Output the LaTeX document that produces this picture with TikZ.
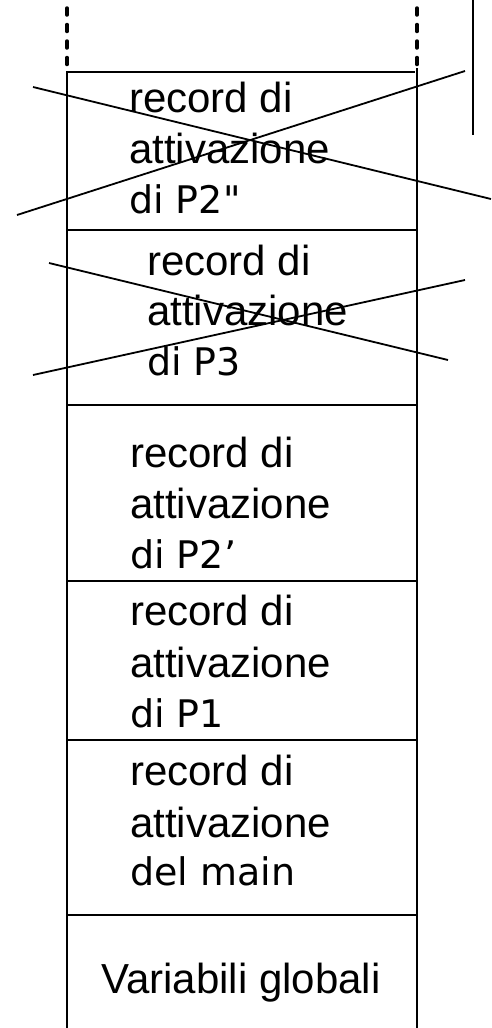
\documentclass[tikz,border=0pt]{standalone}
\usepackage{fontspec}
\setmainfont{Liberation Sans}
\newfontfamily\djv{DejaVu Sans}
\begin{document}
\begin{tikzpicture}[x=1pt,y=-1pt,
  wall/.style={line width=2pt},
  sep/.style={line width=1.8pt},
  cross/.style={line width=1.8pt},
  dashwall/.style={line width=3.5pt,line cap=round,dash pattern=on 7pt off 9.5pt},
  txt/.style={anchor=base west,inner sep=0pt,font=\fontsize{42}{51}\selectfont},
  txtb/.style={anchor=base west,inner sep=0pt,font=\djv\fontsize{38}{51}\selectfont}]
\useasboundingbox (0,0) rectangle (491,1028);
% stack walls
\coordinate (lt) at (67,8);
\coordinate (lm) at (67,72);
\coordinate (lb) at (67,1028);
\coordinate (rt) at (417,8);
\coordinate (rm) at (417,72);
\coordinate (rb) at (417,1028);
\draw[dashwall] (lt) -- (67,68);
\draw[dashwall] (rt) -- (417,68);
\draw[wall] (lm) -- (lb);
\draw[wall] (417,68) -- (rb);
% extra vertical line
\coordinate (vt) at (473,0);
\coordinate (vb) at (473,135);
\draw[wall] (vt) -- (vb);
% separators
\draw[sep] (66,72) -- (415,72);
\foreach \y in {230,405,581,740,915} \draw[sep] (67,\y) -- (417,\y);
% texts
\node[txt] (a1) at (129,112) {record di};
\node[txt] (a2) at (129,163) {attivazione};
\node[txtb] (a3) at (129,213) {di P2\char34};
\node[txt] (b1) at (147,275) {record di};
\node[txt] (b2) at (147,325) {attivazione};
\node[txtb] (b3) at (147,375) {di P3};
\node[txt] (c1) at (130,467) {record di};
\node[txt] (c2) at (130,518) {attivazione};
\node[txtb] (c3) at (130,568) {di P2’};
\node[txt] (d1) at (130,625) {record di};
\node[txt] (d2) at (130,677) {attivazione};
\node[txtb] (d3) at (130,727) {di P1};
\node[txt] (e1) at (130,785) {record di};
\node[txt] (e2) at (130,837) {attivazione};
\node[txtb] (e3) at (130,885) {del main};
\node[txt,anchor=base] (f1) at (241,993) {Variabili globali};
% crosses
\coordinate (x1a) at (33,87);
\coordinate (x1b) at (491,199);
\coordinate (x2a) at (17,215);
\coordinate (x2b) at (465,71);
\draw[cross] (x1a) -- (x1b);
\draw[cross] (x2a) -- (x2b);
\coordinate (y1a) at (49,263);
\coordinate (y1b) at (448,360);
\coordinate (y2a) at (33,375);
\coordinate (y2b) at (465,280);
\draw[cross] (y1a) -- (y1b);
\draw[cross] (y2a) -- (y2b);
\end{tikzpicture}
\end{document}
